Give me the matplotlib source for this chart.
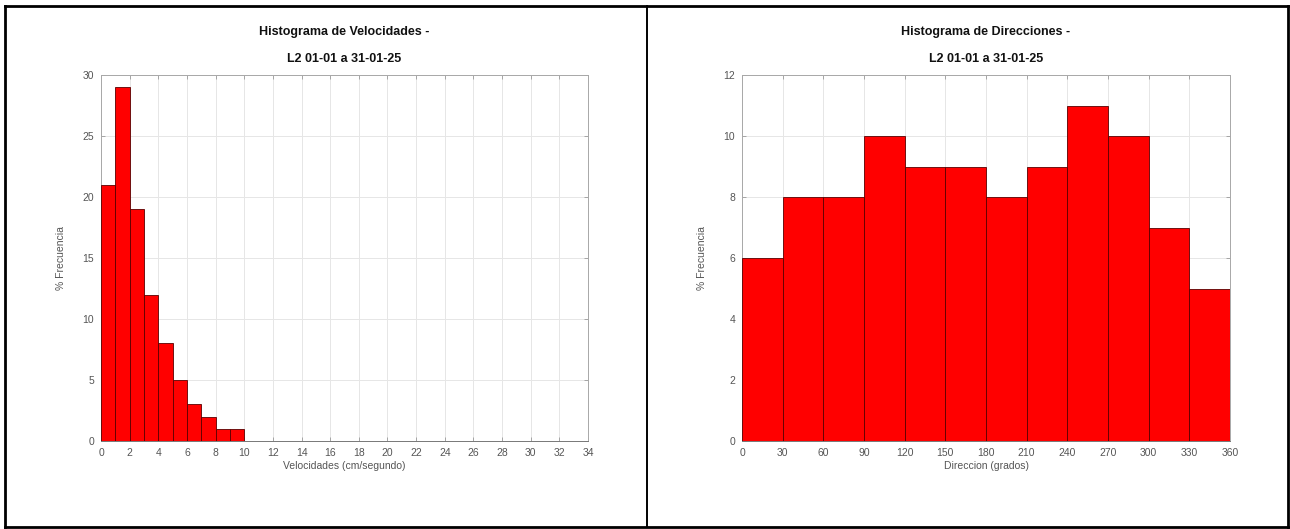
import numpy as np
import matplotlib
matplotlib.use('Agg')
import matplotlib.pyplot as plt
from matplotlib.lines import Line2D

plt.rcParams['font.family'] = ['Liberation Sans', 'DejaVu Sans']

# ── data ──
vel_edges = list(range(0, 35))          # 1 cm/s bins, 0..34
vel_pct = [21, 29, 19, 12, 8, 5, 3, 2, 1, 1] + [0] * 24
vel_ticks = list(range(0, 35, 2))
vel_yticks = [0, 5, 10, 15, 20, 25, 30]

dir_edges = list(range(0, 361, 30))     # 30 degree bins
dir_pct = [6, 8, 8, 10, 9, 9, 8, 9, 11, 10, 7, 5]
dir_ticks = list(range(0, 361, 30))
dir_yticks = [0, 2, 4, 6, 8, 10, 12]

title_vel = 'Histograma de Velocidades -\nL2 01-01 a 31-01-25'
title_dir = 'Histograma de Direcciones -\nL2 01-01 a 31-01-25'

W, H = 1290, 529
fig = plt.figure(figsize=(W / 100, H / 100), dpi=100)
fig.patch.set_facecolor('white')


def style_axes(ax, xlim, ylim, xticks, yticks, xlabel):
    ax.set_xlim(*xlim)
    ax.set_ylim(*ylim)
    ax.set_xticks(xticks)
    ax.set_yticks(yticks)
    ax.tick_params(direction='in', length=3, width=0.6, colors='#9a9a9a',
                   labelcolor='#555555', labelsize=7.5, top=True, right=True,
                   pad=5)
    ax.tick_params(axis='x', labeltop=False)
    ax.tick_params(axis='y', labelright=False)
    ax.grid(True, color='#e6e6e6', linewidth=0.7)
    ax.set_axisbelow(True)
    for sp in ax.spines.values():
        sp.set_color('#a8a8a8')
        sp.set_linewidth(0.7)
    ax.spines['bottom'].set_color('#777777')
    ax.set_xlabel(xlabel, fontsize=7.5, color='#555555', labelpad=2)
    ax.set_ylabel('% Frecuencia', fontsize=7.5, color='#555555', labelpad=12)


# ── left: velocities ──
ax1 = fig.add_axes([101 / W, 1 - 441 / H, 487 / W, 366 / H])
widths = np.diff(vel_edges)
ax1.bar(vel_edges[:-1], vel_pct, width=widths, align='edge',
        color='#ff0000', edgecolor='#5a0000', linewidth=0.6, zorder=3)
style_axes(ax1, (0, 34), (0, 30), vel_ticks, vel_yticks,
           'Velocidades (cm/segundo)')
ax1.set_title(title_vel, fontsize=9, fontweight='bold', color='#111111',
              linespacing=2.7, pad=9)

# ── right: directions ──
ax2 = fig.add_axes([742 / W, 1 - 441 / H, 488 / W, 366 / H])
widths = np.diff(dir_edges)
ax2.bar(dir_edges[:-1], dir_pct, width=widths, align='edge',
        color='#ff0000', edgecolor='#5a0000', linewidth=0.6, zorder=3)
style_axes(ax2, (0, 360), (0, 12), dir_ticks, dir_yticks,
           'Direccion (grados)')
ax2.set_title(title_dir, fontsize=9, fontweight='bold', color='#111111',
              linespacing=2.7, pad=9)

# ── document table borders ──
def px_line(x0, y0, x1, y1, lw=2.0):
    fig.add_artist(Line2D([x0 / W, x1 / W], [1 - y0 / H, 1 - y1 / H],
                          color='black', linewidth=lw,
                          transform=fig.transFigure))

px_line(5, 6, 1288, 6)
px_line(5, 527, 1288, 527)
px_line(5, 6, 5, 527)
px_line(1288, 6, 1288, 527)
px_line(647, 6, 647, 527, lw=1.4)

fig.savefig('out.png', dpi=100, facecolor='white')
